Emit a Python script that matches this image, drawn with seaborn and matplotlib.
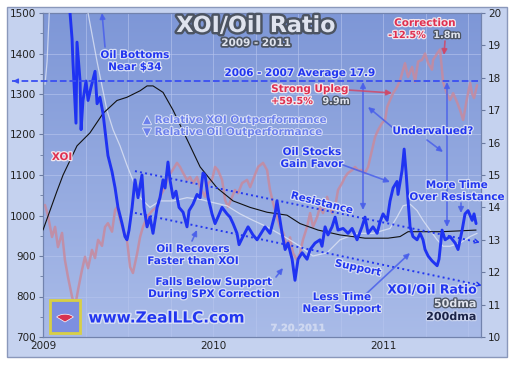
import numpy as np
import seaborn as sns
import matplotlib.pyplot as plt
import matplotlib.patheffects as pe
from matplotlib.colors import LinearSegmentedColormap
from matplotlib.patches import Rectangle, Wedge

# --- data (x in decimal years) ---
ratio_t = [2009.000, 2009.071, 2009.135, 2009.159, 2009.171, 2009.176, 2009.194, 2009.200, 2009.218, 2009.224,
           2009.235, 2009.253, 2009.265, 2009.282, 2009.306, 2009.318, 2009.335, 2009.353, 2009.371, 2009.382,
           2009.406, 2009.424, 2009.441, 2009.465, 2009.482, 2009.494, 2009.506, 2009.524, 2009.541, 2009.559,
           2009.582, 2009.594, 2009.612, 2009.629, 2009.647, 2009.671, 2009.688, 2009.706, 2009.718, 2009.735,
           2009.747, 2009.765, 2009.782, 2009.800, 2009.824, 2009.847, 2009.859, 2009.882, 2009.906, 2009.924,
           2009.941, 2009.953, 2009.971, 2009.994, 2010.012, 2010.029, 2010.053, 2010.082, 2010.100, 2010.118,
           2010.141, 2010.153, 2010.176, 2010.206, 2010.218, 2010.235, 2010.259, 2010.288, 2010.306, 2010.335,
           2010.365, 2010.376, 2010.388, 2010.406, 2010.424, 2010.441, 2010.465, 2010.482, 2010.500, 2010.524,
           2010.553, 2010.571, 2010.600, 2010.629, 2010.641, 2010.659, 2010.676, 2010.700, 2010.718, 2010.735,
           2010.765, 2010.794, 2010.818, 2010.847, 2010.876, 2010.894, 2010.912, 2010.941, 2010.965, 2010.982,
           2011.000, 2011.024, 2011.041, 2011.059, 2011.082, 2011.088, 2011.112, 2011.124, 2011.135, 2011.147,
           2011.159, 2011.176, 2011.200, 2011.218, 2011.235, 2011.247, 2011.265, 2011.288, 2011.318, 2011.329,
           2011.347, 2011.365, 2011.394, 2011.424, 2011.441, 2011.465, 2011.482, 2011.500, 2011.524, 2011.535,
           2011.547]
ratio = [22.5, 23.0, 21.5, 20.0, 19.2, 18.5, 16.6, 19.1, 17.9, 16.4,
         17.3, 17.9, 17.3, 17.7, 18.2, 17.2, 17.4, 16.9, 16.1, 15.6,
         15.1, 14.6, 14.0, 13.5, 13.1, 13.0, 13.3, 14.0, 14.85, 14.3,
         15.0, 14.0, 13.4, 13.7, 13.2, 14.0, 14.3, 14.85, 14.6, 15.4,
         14.85, 14.3, 14.5, 14.0, 13.85, 13.4, 13.9, 14.1, 14.4, 14.3,
         15.06, 15.0, 14.3, 13.8, 13.5, 13.7, 14.0, 13.8, 13.7, 13.5,
         13.2, 12.85, 13.1, 13.4, 13.3, 13.15, 13.0, 13.25, 13.4, 13.2,
         13.8, 14.2, 13.8, 13.2, 12.7, 12.9, 12.4, 11.75, 12.4, 12.6,
         12.4, 12.7, 12.9, 13.0, 12.8, 13.4, 13.15, 13.4, 13.7, 13.3,
         13.35, 13.2, 13.35, 13.0, 13.4, 13.7, 13.2, 13.4, 13.2, 13.55,
         13.8, 13.6, 14.2, 14.6, 14.8, 14.4, 15.15, 15.8, 15.1, 14.2,
         13.4, 13.1, 13.0, 13.2, 13.0, 12.7, 12.5, 12.35, 12.2, 12.4,
         13.3, 13.0, 13.1, 12.9, 12.7, 13.3, 13.8, 13.9, 13.6, 13.8,
         13.5]

xoi_t = [2009.012, 2009.029, 2009.053, 2009.071, 2009.088, 2009.112, 2009.129, 2009.147, 2009.171, 2009.188,
         2009.206, 2009.229, 2009.247, 2009.265, 2009.288, 2009.306, 2009.324, 2009.347, 2009.365, 2009.382,
         2009.406, 2009.424, 2009.435, 2009.453, 2009.471, 2009.494, 2009.512, 2009.529, 2009.553, 2009.571,
         2009.588, 2009.612, 2009.629, 2009.647, 2009.671, 2009.688, 2009.718, 2009.735, 2009.759, 2009.788,
         2009.806, 2009.824, 2009.847, 2009.865, 2009.882, 2009.906, 2009.924, 2009.953, 2009.971, 2009.994,
         2010.012, 2010.029, 2010.053, 2010.071, 2010.088, 2010.112, 2010.129, 2010.147, 2010.171, 2010.200,
         2010.218, 2010.235, 2010.265, 2010.294, 2010.318, 2010.335, 2010.353, 2010.376, 2010.394, 2010.412,
         2010.435, 2010.453, 2010.471, 2010.494, 2010.512, 2010.529, 2010.553, 2010.571, 2010.588, 2010.612,
         2010.629, 2010.647, 2010.671, 2010.700, 2010.718, 2010.735, 2010.759, 2010.776, 2010.794, 2010.818,
         2010.835, 2010.853, 2010.876, 2010.894, 2010.912, 2010.935, 2010.953, 2010.971, 2010.994, 2011.012,
         2011.024, 2011.041, 2011.059, 2011.082, 2011.100, 2011.118, 2011.129, 2011.147, 2011.171, 2011.188,
         2011.206, 2011.229, 2011.247, 2011.265, 2011.288, 2011.294, 2011.318, 2011.335, 2011.353, 2011.376,
         2011.394, 2011.412, 2011.435, 2011.453, 2011.471, 2011.494, 2011.512, 2011.524, 2011.535, 2011.553]
xoi = [1026, 1000, 947, 972, 922, 957, 890, 848, 799, 774,
       816, 865, 898, 870, 915, 895, 940, 925, 972, 981,
       960, 1014, 1020, 990, 964, 940, 873, 858, 905, 947,
       972, 996, 1005, 1014, 1021, 1046, 1070, 1095, 1110, 1130,
       1120, 1105, 1088, 1095, 1080, 1095, 1070, 1046, 1080, 1088,
       1120, 1112, 1088, 1038, 1021, 1046, 1063, 1055, 1080, 1088,
       1070, 1088, 1120, 1130, 1112, 1063, 1031, 996, 972, 957,
       922, 946, 907, 890, 907, 940, 972, 1006, 972, 996,
       1021, 1006, 1046, 1006, 1021, 1063, 1080, 1095, 1105, 1112,
       1120, 1112, 1112, 1105, 1120, 1162, 1194, 1211, 1228, 1236,
       1268, 1285, 1302, 1317, 1334, 1360, 1376, 1342, 1367, 1330,
       1380, 1384, 1400, 1376, 1360, 1384, 1400, 1410, 1330, 1300,
       1285, 1302, 1280, 1260, 1236, 1290, 1327, 1300, 1290, 1322]

ma50_t = [2009.012, 2009.024, 2009.041, 2009.100, 2009.188, 2009.265, 2009.318, 2009.376, 2009.412, 2009.453,
          2009.494, 2009.524, 2009.571, 2009.629, 2009.688, 2009.765, 2009.847, 2009.924, 2010.000, 2010.082,
          2010.159, 2010.235, 2010.318, 2010.435, 2010.512, 2010.588, 2010.671, 2010.747, 2010.847, 2010.941,
          2011.041, 2011.082, 2011.118, 2011.159, 2011.200, 2011.235, 2011.276, 2011.318, 2011.353, 2011.394,
          2011.453, 2011.512, 2011.553]
ma50 = [17.8, 18.5, 20.5, 21.5, 21.0, 20.0, 18.5, 17.0, 16.4, 15.9,
        15.3, 14.9, 14.3, 14.0, 14.2, 14.2, 14.3, 14.25, 14.15, 14.05,
        13.8, 13.6, 13.4, 13.05, 12.8, 12.5, 12.6, 13.0, 13.2, 13.2,
        13.35, 13.7, 14.05, 14.1, 13.9, 13.6, 13.3, 13.0, 12.8, 12.8,
        12.9, 13.1, 13.2]

ma200_t = [2009.000, 2009.041, 2009.082, 2009.118, 2009.200, 2009.276, 2009.353, 2009.435, 2009.494, 2009.571,
           2009.612, 2009.647, 2009.706, 2009.765, 2009.847, 2009.924, 2010.024, 2010.118, 2010.218, 2010.318,
           2010.435, 2010.512, 2010.618, 2010.747, 2010.894, 2011.029, 2011.100, 2011.147, 2011.347, 2011.547]
ma200 = [13.3, 13.9, 14.5, 15.0, 15.9, 16.3, 16.9, 17.3, 17.4, 17.6,
         17.75, 17.75, 17.55, 17.0, 16.1, 15.25, 14.6, 14.2, 14.0, 13.85,
         13.76, 13.5, 13.3, 13.15, 13.05, 13.05, 13.1, 13.25, 13.25, 13.3]

avg_0607 = 17.9
resist_t, resist = [2009.541, 2011.559], [15.12, 12.93]
support_t, support = [2009.541, 2011.570], [13.83, 11.60]

left_ticks = [700, 800, 900, 1000, 1100, 1200, 1300, 1400, 1500]
right_ticks = [10, 11, 12, 13, 14, 15, 16, 17, 18, 19, 20]
year_ticks = [2009, 2010, 2011]

# --- figure ---
sns.set_style('white')
plt.rcParams['font.family'] = ['DejaVu Sans']
W, H = 514, 365
fig = plt.figure(figsize=(W / 100, H / 100), dpi=100)
fig.patch.set_facecolor('white')
fig.patches.append(Rectangle((7 / W, 1 - 357 / H), 500 / W, 350 / H, transform=fig.transFigure,
                             facecolor='#c5d2ef', edgecolor='#8a98bb', lw=1, zorder=-5))

ax = fig.add_axes([43 / W, 1 - 337 / H, 438 / W, 324 / H])
ax2 = ax.twinx()

bg = LinearSegmentedColormap.from_list('bg', ['#a9bbe8', '#7e97d7'])
ax.imshow(np.linspace(0, 1, 256).reshape(-1, 1), extent=[0, 1, 0, 1], transform=ax.transAxes,
          cmap=bg, origin='lower', aspect='auto', zorder=0)
ax.patch.set_visible(False)

sns.lineplot(x=xoi_t, y=xoi, ax=ax, color='#c78a9e', linewidth=1.8, alpha=0.85, zorder=3)
sns.lineplot(x=ma50_t, y=ma50, ax=ax2, color='#e4e9f6', linewidth=0.9, alpha=0.75, zorder=3)
sns.lineplot(x=ma200_t, y=ma200, ax=ax2, color='#111111', linewidth=0.8, zorder=4)
sns.lineplot(x=ratio_t, y=ratio, ax=ax2, color='#1f33f2', linewidth=2.1, zorder=5)

ax.set_xlim(2009, 2011.576)
ax.set_ylim(700, 1500)
ax2.set_ylim(10, 20)
ax.set_xticks(year_ticks)
ax.set_xticks(np.arange(2009.25, 2011.6, 0.25), minor=True)
ax.set_yticks(left_ticks)
ax.set_yticks(np.arange(750, 1500, 100), minor=True)
ax2.set_yticks(right_ticks)
ax.set_xticklabels([str(y) for y in year_ticks])
ax.grid(True, which='both', axis='x', color='#b7c5ee', lw=0.6, alpha=0.7)
ax.grid(True, which='major', axis='y', color='#b7c5ee', lw=0.6, alpha=0.7)
ax.set_axisbelow(False)
for a in (ax, ax2):
    a.set_xlabel('')
    a.set_ylabel('')
    for s in a.spines.values():
        s.set_color('#7283ad')
        s.set_linewidth(0.8)
ax.tick_params(axis='y', which='major', direction='out', length=3, labelsize=7.5, colors='#6a7aa0', labelcolor='#222222', pad=2)
ax.tick_params(axis='y', which='minor', direction='out', length=2, colors='#6a7aa0')
ax.tick_params(axis='x', which='major', direction='in', length=4, labelsize=7.5, colors='#6a7aa0', labelcolor='#222222', pad=3)
ax.tick_params(axis='x', which='minor', length=0)
ax2.tick_params(axis='y', direction='out', length=3, labelsize=7.5, colors='#6a7aa0', labelcolor='#222222', pad=2)

# trend channels and the 06-07 average
blue = '#2236f0'
ax2.plot(resist_t, resist, ls=':', color=blue, lw=1.4, zorder=6)
ax2.plot(support_t, support, ls=':', color=blue, lw=1.4, zorder=6)
for tt, vv in ((resist_t, resist), (support_t, support)):
    ax2.annotate('', xy=(tt[1] + 0.01, vv[1] - 0.012), xytext=(tt[1] - 0.02, vv[1] + 0.03),
                 arrowprops=dict(arrowstyle='->', color=blue, lw=1.0, mutation_scale=7), annotation_clip=False)
ax2.plot([-0.07, 1.0], [avg_0607, avg_0607], transform=ax2.get_yaxis_transform(), ls='--',
         color='#3a4ff2', lw=1.3, clip_on=False, zorder=6)
ax2.annotate('', xy=(-0.075, avg_0607), xycoords=ax2.get_yaxis_transform(), xytext=(-0.05, avg_0607),
             arrowprops=dict(arrowstyle='-|>', color='#3a4ff2', lw=1.0, mutation_scale=7), annotation_clip=False)


def P(x, y):
    return (x / W, 1 - y / H)


def label(x, y, s, color, stroke, size=7.5, ha='center', rot=0, lw=1.8, alpha=1.0):
    fig.text(*P(x, y), s, color=color, fontsize=size, fontweight='bold', ha=ha, va='center',
             rotation=rot, alpha=alpha, zorder=10,
             path_effects=[pe.withStroke(linewidth=lw, foreground=stroke)])


def arrow(x0, y0, x1, y1, color='#4a60ea', style='-|>'):
    ax2.annotate('', xy=P(x1, y1), xycoords='figure fraction', xytext=P(x0, y0), textcoords='figure fraction',
                 arrowprops=dict(arrowstyle=style, color=color, lw=1.2, alpha=0.85, mutation_scale=8,
                                 shrinkA=0, shrinkB=0), zorder=9)


red, halo, grey, dark = '#e0304f', '#d6def5', '#e0e4ee', '#4c5462'
label(256, 26, 'XOI/Oil Ratio', '#dfe3ee', dark, size=16, lw=3.5)
label(256, 43, '2009 - 2011', '#dfe3ee', dark, size=7.5, lw=2.5)
label(135, 55, 'Oil Bottoms', blue, halo)
label(135, 67, 'Near $34', blue, halo)
label(300, 73, '2006 - 2007 Average 17.9', blue, halo)
label(143, 120, '▲ Relative XOI Outperformance', '#6c80ec', '#dfe5f8', ha='left', lw=1.3)
label(143, 132, '▼ Relative Oil Outperformance', '#6c80ec', '#dfe5f8', ha='left', lw=1.3)
label(62, 157, 'XOI', red, '#f1e6ee')
label(425, 23, 'Correction', red, '#f1e6ee')
label(407, 35, '-12.5%', red, '#f1e6ee', size=7)
label(447, 35, '1.8m', grey, dark, size=7)
label(310, 89, 'Strong Upleg', red, '#f1e6ee')
label(292, 101, '+59.5%', red, '#f1e6ee', size=7)
label(336, 101, '9.9m', grey, dark, size=7)
label(433, 131, 'Undervalued?', blue, halo)
label(312, 152, 'Oil Stocks', blue, halo)
label(312, 164, 'Gain Favor', blue, halo)
label(322, 203, 'Resistance', blue, halo, rot=-14)
label(358, 268, 'Support', blue, halo, rot=-12)
label(193, 249, 'Oil Recovers', blue, halo)
label(193, 261, 'Faster than XOI', blue, halo)
label(214, 282, 'Falls Below Support', blue, halo)
label(214, 294, 'During SPX Correction', blue, halo)
label(342, 297, 'Less Time', blue, halo)
label(342, 309, 'Near Support', blue, halo)
label(457, 185, 'More Time', blue, halo)
label(457, 197, 'Over Resistance', blue, halo)
label(476, 290, 'XOI/Oil Ratio', blue, halo, size=9, ha='right')
label(476, 304, '50dma', grey, dark, ha='right', size=8)
label(476, 317, '200dma', '#1c2448', '#c8d2ee', ha='right', size=8)
label(298, 328, '7.20.2011', '#e8ecf8', '#e8ecf8', size=7, lw=0.5, alpha=0.35)
label(166, 318, 'www.ZealLLC.com', blue, halo, size=11, lw=2.2)

# logo
fig.patches.append(Rectangle((50 / W, 1 - 333 / H), 30 / W, 33 / H, transform=fig.transFigure,
                             facecolor='#7d8fe0', edgecolor='#d8cf45', lw=2, zorder=8))
fig.patches.append(Wedge(P(65, 322), 11 / W, 40, 140, transform=fig.transFigure,
                         facecolor='#d8324e', edgecolor='white', lw=0.5, zorder=9))

arrow(105, 47, 102, 13)
arrow(392, 127, 368, 107)
arrow(427, 140, 443, 152)
arrow(343, 165, 390, 182)
arrow(363, 210, 363, 82, style='<|-|>')
arrow(447, 227, 447, 82, style='<|-|>')
arrow(192, 241, 197, 230)
arrow(276, 277, 283, 268)
arrow(365, 295, 410, 253)
arrow(461, 203, 461, 213)
arrow(445, 41, 444, 55, color='#d04868')
arrow(348, 90, 392, 93, color='#d04868')

fig.savefig('out.png', dpi=100)
